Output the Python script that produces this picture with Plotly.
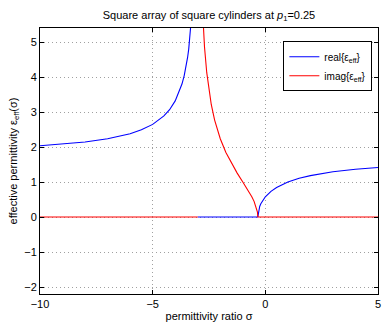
import plotly.graph_objects as go

# Values (sigma = permittivity ratio)
real_left_x = [-10, -9, -8, -7, -6, -5.5, -5, -4.5, -4.25, -4, -3.8, -3.7, -3.6, -3.5, -3.45, -3.4, -3.35, -3.3, -3.25, -3.2]
real_left_y = [2.035, 2.082, 2.145, 2.236, 2.380, 2.490, 2.646, 2.887, 3.066, 3.317, 3.606, 3.798, 4.041, 4.359, 4.558, 4.796, 5.085, 5.447, 5.916, 6.557]
real_mid_x = [-3.0, -0.333]
real_mid_y = [0, 0]
real_right_x = [-0.333, -0.3, -0.25, -0.2, -0.1, 0, 0.25, 0.5, 1, 1.5, 2, 2.5, 3, 4, 5]
real_right_y = [0, 0.192, 0.302, 0.378, 0.491, 0.577, 0.734, 0.845, 1.0, 1.106, 1.183, 1.243, 1.291, 1.363, 1.414]

imag_left_x = [-10, -3.0]
imag_left_y = [0, 0]
imag_mid_x = [-2.8, -2.75, -2.7, -2.6, -2.5, -2.4, -2.25, -2, -1.75, -1.5, -1.25, -1, -0.8, -0.6, -0.5, -0.4, -0.35, -0.333, 5]
imag_mid_y = [6.083, 5.385, 4.865, 4.123, 3.606, 3.215, 2.769, 2.236, 1.844, 1.528, 1.254, 1.0, 0.798, 0.577, 0.447, 0.277, 0.137, 0, 0]

x_ticks = [-10, -5, 0, 5]
y_ticks = [-2, -1, 0, 1, 2, 3, 4, 5]

font = "Liberation Sans, Arial, sans-serif"

fig = go.Figure()
fig.add_trace(go.Scatter(
    x=real_left_x + [None] + real_mid_x + [None] + real_right_x,
    y=real_left_y + [None] + real_mid_y + [None] + real_right_y,
    mode="lines", line=dict(color="#0000ff", width=1.1),
    name="real{ε<sub>eff</sub>}", connectgaps=False
))
fig.add_trace(go.Scatter(
    x=imag_left_x + [None] + imag_mid_x,
    y=imag_left_y + [None] + imag_mid_y,
    mode="lines", line=dict(color="#ff0000", width=1.1),
    name="imag{ε<sub>eff</sub>}", connectgaps=False
))

axis_style = dict(
    showline=True, linecolor="black", linewidth=1, mirror="ticks",
    ticks="inside", ticklen=4, tickcolor="black",
    showgrid=True, gridcolor="#a0a0a0", griddash="1px,3px", gridwidth=1,
    zeroline=False, tickfont=dict(size=11, color="black"),
)

fig.update_xaxes(range=[-10, 5], tickvals=x_ticks,
                 title=dict(text="permittivity ratio σ", font=dict(size=11), standoff=3),
                 **axis_style)
fig.update_yaxes(range=[-2.2, 5.4], tickvals=y_ticks,
                 title=dict(text="effective permittivity ε<sub>eff</sub>(σ)", font=dict(size=11), standoff=4),
                 **axis_style)

fig.update_layout(
    width=387, height=327,
    margin=dict(l=40, r=6, t=28, b=31),
    paper_bgcolor="white", plot_bgcolor="white",
    font=dict(family=font, size=11, color="black"),
    title=dict(text="Square array of square cylinders at <i>p</i><sub>1</sub>=0.25",
               x=0.5, xref="paper", y=0.965, yref="container", xanchor="center",
               font=dict(size=11)),
    legend=dict(x=0.72, y=0.95, xanchor="left", yanchor="top",
                bordercolor="black", borderwidth=1, bgcolor="white",
                font=dict(size=10), tracegroupgap=0, itemwidth=30),
    showlegend=True,
)

fig.write_html("out.html", config={"displayModeBar": False},
               post_script="document.body.style.margin='0';")
